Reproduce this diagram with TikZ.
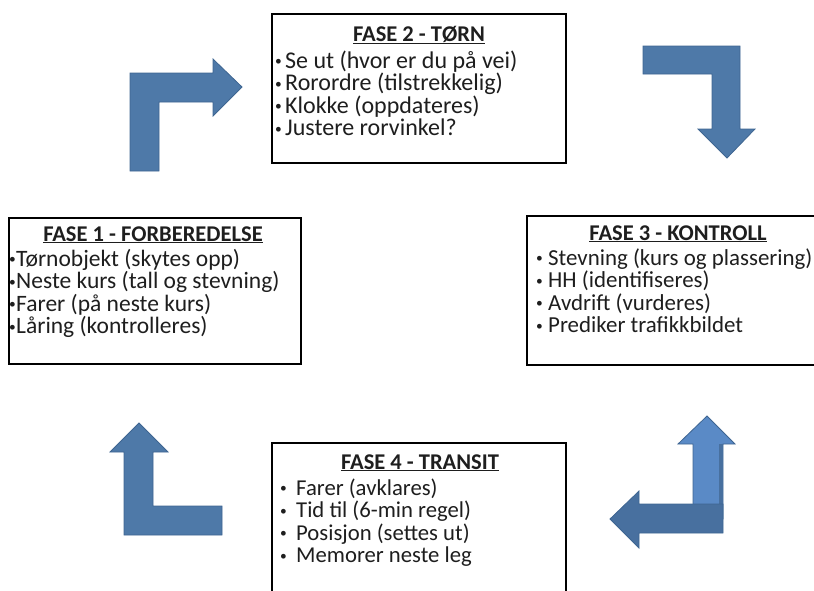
\documentclass[tikz,border=0pt]{standalone}
\usepackage{fontspec}
\setmainfont{Carlito}
\definecolor{arrowblue}{HTML}{4E79A8}
\definecolor{arrowedge}{HTML}{3E6591}
\definecolor{arrowlight}{HTML}{5A8AC6}
\definecolor{arrowdark}{HTML}{48709F}
\definecolor{textgray}{HTML}{1E1E1E}
\tikzset{
  box/.style={draw=black, line width=2.6pt, fill=white},
  bentarrow/.style={fill=arrowblue, draw=arrowedge, line width=0.8pt, line join=miter},
  title/.style={anchor=base, inner sep=0pt, text=textgray, font=\fontsize{22.5}{24}\selectfont\bfseries},
  item/.style={anchor=base west, inner sep=0pt, text=textgray}
}
\newcommand{\bul}[2]{\makebox[#1][l]{\raisebox{2.4pt}{\fontsize{13.5}{13.5}\selectfont•}}#2}
\begin{document}
\begin{tikzpicture}[x=1pt, y=-1pt]
\useasboundingbox (0,0) rectangle (814,590);

% arrows
\draw[bentarrow] (130,171) -- (130,73) -- (213,73) -- (213,59) -- (242,87) -- (213,116) -- (213,102) -- (159,102) -- (159,171) -- cycle;
\draw[bentarrow] (643,46) -- (740,46) -- (740,129) -- (755,129) -- (727,158) -- (698,129) -- (712,129) -- (712,74) -- (643,74) -- cycle;
\draw[bentarrow, fill=arrowlight] (693,519) -- (693,444) -- (678,444) -- (707,416) -- (735,444) -- (723,444) -- (723,519) -- cycle;
\fill[arrowdark] (719,444) rectangle (723,505);
\draw[bentarrow, fill=arrowdark] (723,504) -- (723,533) -- (639,533) -- (639,548) -- (610,519) -- (639,491) -- (639,504) -- cycle;
\draw[bentarrow] (124,535) -- (124,452) -- (110,452) -- (139,423) -- (168,452) -- (153,452) -- (153,506) -- (222,506) -- (222,535) -- cycle;

% boxes
\draw[box] (9,218) rectangle (301,364);
\draw[box] (272,14) rectangle (566,163);
\draw[box] (527,216) rectangle (830,365);
\draw[box] (272,443) rectangle (566,610);

% Fase 2
\node[title] (t2) at (419,41) {\underline{FASE 2 - TØRN}};
\foreach \t [count=\i] in {{Se ut (hvor er du på vei)},{Rorordre (tilstrekkelig)},{Klokke (oppdateres)},{Justere rorvinkel?}}
  \node[item, font=\fontsize{24}{24}\selectfont] (b2l\i) at (275,{68+22.5*(\i-1)}) {\bul{10pt}{\t}};

% Fase 1
\node[title] (t1) at (153,241) {\underline{FASE 1 - FORBEREDELSE}};
\foreach \t [count=\i] in {{Tørnobjekt (skytes opp)},{Neste kurs (tall og stevning)},{Farer (på neste kurs)},{Låring (kontrolleres)}}
  \node[item, font=\fontsize{23.5}{24}\selectfont] (b1l\i) at (9,{266+22.5*(\i-1)}) {\bul{7pt}{\t}};

% Fase 3
\node[title] (t3) at (678,240) {\underline{FASE 3 - KONTROLL}};
\foreach \t [count=\i] in {{Stevning (kurs og plassering)},{HH (identifiseres)},{Avdrift (vurderes)},{Prediker trafikkbildet}}
  \node[item, font=\fontsize{22.9}{24}\selectfont] (b3l\i) at (536,{265+22.5*(\i-1)}) {\bul{12pt}{\t}};

% Fase 4
\node[title] (t4) at (420,469) {\underline{FASE 4 - TRANSIT}};
\foreach \t [count=\i] in {{Farer (avklares)},{Tid til (6-min regel)},{Posisjon (settes ut)},{Memorer neste leg}}
  \node[item, font=\fontsize{22.7}{24}\selectfont] (b4l\i) at (280,{495+22.5*(\i-1)}) {\bul{16pt}{\t}};
\end{tikzpicture}
\end{document}
